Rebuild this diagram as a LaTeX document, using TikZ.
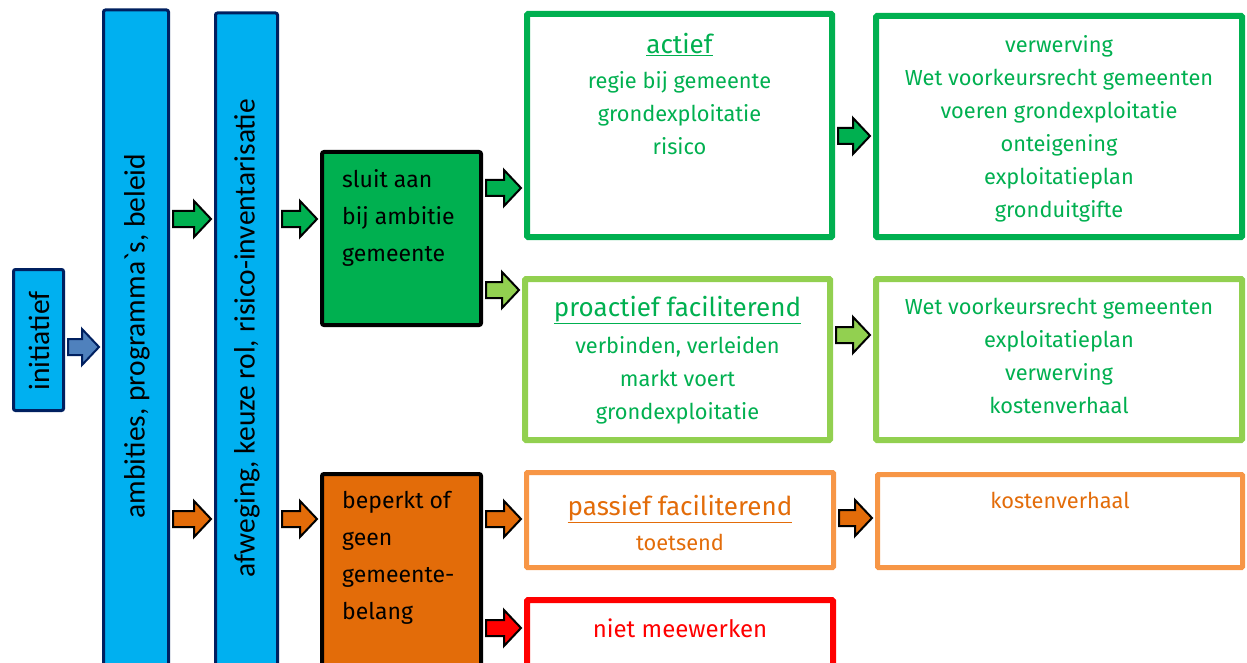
\documentclass[tikz,border=0pt]{standalone}
\usepackage{fontspec}
\setmainfont{Fira Sans}
\newfontfamily\calfont{Carlito}
\usetikzlibrary{calc,positioning}

\definecolor{cyanbox}{HTML}{00B0F0}
\definecolor{navy}{HTML}{002060}
\definecolor{steel}{HTML}{4F81BD}
\definecolor{dgreen}{HTML}{00B050}
\definecolor{lgreen}{HTML}{92D050}
\definecolor{dorange}{HTML}{E36C09}
\definecolor{lorange}{HTML}{F79646}
\definecolor{bred}{HTML}{FF0000}

% block arrow from node #2 to node #3 at height #4
\newcommand{\blockarrow}[4]{%
  \filldraw[#1] let \p1=(#2.east |- 0,#4), \p2=(#3.west |- 0,#4) in
    (\x1+3pt,\y1+8pt) -- (\x2-20pt,\y1+8pt) -- (\x2-20pt,\y1+18pt) -- (\x2-3pt,\y1)
    -- (\x2-20pt,\y1-18pt) -- (\x2-20pt,\y1-8pt) -- (\x1+3pt,\y1-8pt) -- cycle;}

\begin{document}
\begin{tikzpicture}[x=1pt,y=-1pt,
	box/.style={rectangle, rounded corners=2pt, inner sep=0pt},
	bluebox/.style={box, draw=navy, line width=3pt, fill=cyanbox},
	blackbox/.style={box, draw=black, line width=4pt},
	frame/.style={rectangle, rounded corners=1pt, inner sep=0pt, fill=white, line width=6pt},
	vtext/.style={rotate=90, inner sep=0pt, font=\calfont\fontsize{29.5}{32}\selectfont},
	ltext/.style={align=left, inner sep=0pt, font=\fontsize{23}{37}\selectfont},
	ctext/.style={align=center, inner sep=0pt, font=\fontsize{21.8}{33}\selectfont},
	title/.style={font=\fontsize{26}{33}\selectfont},
	arr/.style={line width=2pt, draw=black}]

	\useasboundingbox (0,0) rectangle (1247,663);

	% left column
	\node[bluebox, minimum width=50pt, minimum height=141pt] (init) at (38.5,340) {};
	\node[bluebox, minimum width=65pt, minimum height=687pt] (amb) at (136,353.5) {};
	\node[bluebox, minimum width=62pt, minimum height=684pt] (afw) at (246.5,355) {};
	\node[vtext] (initT) at (39,341) {initiatief};
	\node[vtext] (ambT) at (137,336) {ambities, programma\textasciigrave s, beleid};
	\node[vtext] (afwT) at (247,338) {afweging, keuze rol, risico-inventarisatie};

	% choice
	\node[blackbox, fill=dgreen, minimum width=159pt, minimum height=173pt] (sluit) at (401.5,238.5) {};
	\node[blackbox, fill=dorange, minimum width=159pt, minimum height=224pt] (beperkt) at (401.5,586) {};
	\node[ltext, below right=19pt and 22pt of sluit.north west] (sluitT) {sluit aan\\bij ambitie\\gemeente};
	\node[ltext, below right=19pt and 22pt of beperkt.north west] (beperktT) {beperkt of\\geen\\gemeente-\\belang};

	% roles
	\node[frame, draw=dgreen, minimum width=305pt, minimum height=223pt] (act) at (679.5,125.5) {};
	\node[frame, draw=lgreen, minimum width=305pt, minimum height=161pt] (pro) at (677.5,359.5) {};
	\node[frame, draw=lorange, line width=5pt, minimum width=307pt, minimum height=95pt] (pas) at (680,520) {};
	\node[frame, draw=bred, minimum width=306pt, minimum height=97pt] (niet) at (680,648.5) {};
	\node[ctext, text=dgreen, below=22pt of act.north] (actT)
		{{\fontsize{26}{33}\selectfont\underline{actief}}\\[2pt]
		regie bij gemeente\\grondexploitatie\\risico};
	\node[ctext, text=dgreen, below=20pt of pro.north] (proT)
		{{\fontsize{26}{33}\selectfont\underline{proactief faciliterend}}\\[4pt]
		verbinden, verleiden\\markt voert\\grondexploitatie};
	\node[ctext, text=dorange, below=25pt of pas.north] (pasT)
		{{\fontsize{26}{33}\selectfont\underline{passief faciliterend}}\\[2pt]
		toetsend};
	\node[ctext, text=bred, font=\fontsize{24}{33}\selectfont, below=22pt of niet.north] (nietT) {niet meewerken};

	% instruments
	\node[frame, draw=dgreen, minimum width=366pt, minimum height=221pt] (actR) at (1059,126.5) {};
	\node[frame, draw=lgreen, minimum width=366pt, minimum height=161pt] (proR) at (1059,359.5) {};
	\node[frame, draw=lorange, line width=5pt, minimum width=365pt, minimum height=93pt] (pasR) at (1060,521) {};
	\node[ctext, text=dgreen, below=22pt of actR.north] (actRT)
		{verwerving\\Wet voorkeursrecht gemeenten\\voeren grondexploitatie\\onteigening\\exploitatieplan\\gronduitgifte};
	\node[ctext, text=dgreen, below=22pt of proR.north] (proRT)
		{Wet voorkeursrecht gemeenten\\exploitatieplan\\verwerving\\kostenverhaal};
	\node[ctext, text=dorange, below=20pt of pasR.north] (pasRT) {kostenverhaal};

	% arrows
	\blockarrow{arr, draw=navy, fill=steel}{init}{amb}{347}
	\blockarrow{arr, fill=dgreen}{amb}{afw}{219}
	\blockarrow{arr, fill=dorange}{amb}{afw}{519}
	\blockarrow{arr, fill=dgreen}{afw}{sluit}{219}
	\blockarrow{arr, fill=dorange}{afw}{beperkt}{519}
	\blockarrow{arr, fill=dgreen}{sluit}{act}{188}
	\blockarrow{arr, fill=lgreen}{sluit}{pro}{290}
	\blockarrow{arr, fill=dorange}{beperkt}{pas}{519}
	\blockarrow{arr, fill=bred}{beperkt}{niet}{628}
	\blockarrow{arr, fill=dgreen}{act}{actR}{136}
	\blockarrow{arr, fill=lgreen}{pro}{proR}{335}
	\blockarrow{arr, fill=dorange}{pas}{pasR}{518}
\end{tikzpicture}
\end{document}
